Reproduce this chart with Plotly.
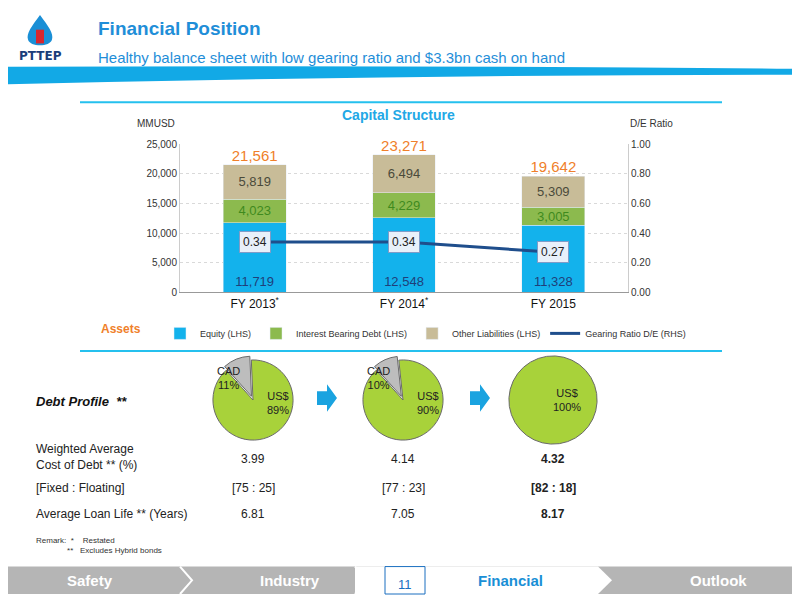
import plotly.graph_objects as go

years = ["FY 2013<sup>*</sup>", "FY 2014<sup>*</sup>", "FY 2015"]
equity = [11719, 12548, 11328]
ibd = [4023, 4229, 3005]
other = [5819, 6494, 5309]
totals = [21561, 23271, 19642]
de_ratio = [0.34, 0.34, 0.27]
usd_share = [89, 90, 100]
cad_share = [11, 10, 0]
cost_debt = ["3.99", "4.14", "4.32"]
fixed_float = ["[75 : 25]", "[77 : 23]", "[82 : 18]"]
loan_life = ["6.81", "7.05", "8.17"]

OFF = 8
W, H = 800 - OFF, 600 - OFF
def px(x): return (x - OFF) / W
def py(y): return 1 - (y - OFF) / H

FONT = "Liberation Sans"
fig = go.Figure()

bar_w = 0.42
fig.add_trace(go.Bar(x=years, y=equity, name="Equity (LHS)", marker_color="#13b2ec", width=bar_w,
                     text=[f"{v:,}" for v in equity], textposition="inside", insidetextanchor="start",
                     textfont=dict(color="#1f3f7a", size=13), hoverinfo="skip"))
fig.add_trace(go.Bar(x=years, y=ibd, name="Interest Bearing Debt (LHS)", marker_color="#8cba4e", width=bar_w,
                     text=[f"{v:,}" for v in ibd], textposition="inside", insidetextanchor="middle",
                     textfont=dict(color="#3f8a1e", size=13)))
fig.add_trace(go.Bar(x=years, y=other, name="Other Liabilities (LHS)", marker_color="#c8bc98", width=bar_w,
                     text=[f"{v:,}" for v in other], textposition="inside", insidetextanchor="middle",
                     textfont=dict(color="#4a4a3a", size=13)))
fig.add_trace(go.Scatter(x=years, y=de_ratio, name="Gearing Ratio D/E (RHS)", mode="lines", yaxis="y2",
                         line=dict(color="#1f4e8c", width=3)))
fig.add_trace(go.Scatter(x=years, y=totals, mode="text", text=[f"{v:,}" for v in totals],
                         textposition="top center", textfont=dict(color="#f07f2a", size=15),
                         showlegend=False, cliponaxis=False))

fig.update_layout(
    width=W, height=H, margin=dict(l=0, r=0, t=0, b=0), plot_bgcolor="white", paper_bgcolor="white",
    barmode="stack", font=dict(family=FONT, color="#333"),
    uniformtext=dict(mode="show", minsize=12),
    xaxis=dict(domain=[px(180), px(628)], showgrid=False, showline=True, linecolor="#999",
               tickfont=dict(size=12, color="#111"), ticks="", anchor="y"),
    yaxis=dict(domain=[py(292), py(141)], range=[0, 25000], dtick=5000, tickformat=",",
               showgrid=True, gridcolor="#d9d9d9", griddash="dot", tickfont=dict(size=10, color="#333"),
               showline=True, linecolor="#ccc", zeroline=False),
    yaxis2=dict(overlaying="y", side="right", range=[0, 1], dtick=0.2, tickformat=".2f",
                showgrid=False, tickfont=dict(size=10, color="#333"), showline=True, linecolor="#ccc"),
    legend=dict(orientation="h", x=px(160), y=py(334), yanchor="middle", xanchor="left",
                font=dict(size=9, color="#333"), traceorder="normal"),
)

shapes = []
ann = []
for i, v in enumerate(de_ratio):
    ann.append(dict(text=f"{v:.2f}", x=years[i], y=v, xref="x", yref="y2", showarrow=False,
                    bgcolor="#e8f0fa", bordercolor="#7f9cc8", borderwidth=1, borderpad=3,
                    font=dict(size=12, color="#222"), xanchor="center", yanchor="middle"))

shapes.append(dict(type="path", xref="paper", yref="paper",
                   path=f"M {px(0)} {py(62)} Q {px(400)} {py(60)} {px(800)} {py(64)} L {px(800)} {py(70)} Q {px(400)} {py(70)} {px(0)} {py(80)} Z",
                   fillcolor="#12a9e6", line_width=0, layer="below"))
shapes.append(dict(type="line", xref="paper", yref="paper", x0=px(80), x1=px(722), y0=py(98), y1=py(98),
                   line=dict(color="#25c0ee", width=2)))
shapes.append(dict(type="line", xref="paper", yref="paper", x0=px(80), x1=px(722), y0=py(352), y1=py(352),
                   line=dict(color="#25c0ee", width=2)))
shapes.append(dict(type="path", xref="paper", yref="paper",
                   path=f"M {px(40)} {py(9)} C {px(32)} {py(20)} {px(26)} {py(28)} {px(28)} {py(34)} C {px(30)} {py(42)} {px(50)} {py(42)} {px(52)} {py(34)} C {px(54)} {py(28)} {px(48)} {py(20)} {px(40)} {py(9)} Z",
                   fillcolor="#1a8fd6", line_width=0))
shapes.append(dict(type="rect", xref="paper", yref="paper", x0=px(36), x1=px(44), y0=py(38), y1=py(24),
                   fillcolor="#d8262e", line_width=0))
ann.append(dict(text="<b>PTTEP</b>", x=px(40), y=py(51), showarrow=False, font=dict(size=12, color="#1a3d7a", family="DejaVu Sans")))
ann.append(dict(text="<b>Financial Position</b>", x=px(96), y=py(23), xanchor="left", showarrow=False,
                font=dict(size=19, color="#1f8ed8")))
ann.append(dict(text="Healthy balance sheet with low gearing ratio and $3.3bn cash on hand", x=px(96), y=py(52),
                xanchor="left", showarrow=False, font=dict(size=15, color="#1f8ed8")))

ann.append(dict(text="<b>Capital Structure</b>", x=px(398), y=py(111), showarrow=False, font=dict(size=14, color="#22a8e6")))
ann.append(dict(text="MMUSD", x=px(135), y=py(120), xanchor="left", showarrow=False, font=dict(size=10, color="#333")))
ann.append(dict(text="D/E Ratio", x=px(675), y=py(120), xanchor="right", showarrow=False, font=dict(size=10, color="#333")))
ann.append(dict(text="<b>Assets</b>", x=px(99), y=py(330), xanchor="left", showarrow=False, font=dict(size=12, color="#f07f2a")))

centers = [253, 403, 553]
for i, c in enumerate(centers):
    r = 45
    if cad_share[i]:
        vals, cols, pull = [cad_share[i], usd_share[i]], ["#bdbdbd", "#a8d23a"], [0.1, 0]
    else:
        vals, cols, pull = [usd_share[i]], ["#a8d23a"], [0]
    fig.add_trace(go.Pie(values=vals, marker=dict(colors=cols, line=dict(color="#6a6a6a", width=1)),
                         textinfo="none", sort=False, direction="clockwise", rotation=-42,
                         pull=pull, showlegend=False, hoverinfo="skip",
                         domain=dict(x=[px(c - r), px(c + r)], y=[py(402 + r), py(402 - r)])))
    ann.append(dict(text=f"US$<br>{usd_share[i]}%", x=px(c + (25 if cad_share[i] else 14)), y=py(405 if cad_share[i] else 402),
                    showarrow=False, font=dict(size=11, color="#222")))
    if cad_share[i]:
        ann.append(dict(text=f"CAD<br>{cad_share[i]}%", x=px(c - 25), y=py(380), showarrow=False,
                        font=dict(size=11, color="#222")))
for ax in [325, 478]:
    shapes.append(dict(type="path", xref="paper", yref="paper",
                       path=f"M {px(ax-8)} {py(393)} L {px(ax+2)} {py(393)} L {px(ax+2)} {py(386)} L {px(ax+12)} {py(400)} L {px(ax+2)} {py(414)} L {px(ax+2)} {py(407)} L {px(ax-8)} {py(407)} Z",
                       fillcolor="#1aa3e0", line_width=0))

ann.append(dict(text="<b><i>Debt Profile  **</i></b>", x=px(34), y=py(404), xanchor="left", showarrow=False, font=dict(size=13, color="#111")))
rows = [("Weighted Average<br>Cost of Debt ** (%)", cost_debt, 460), ("[Fixed : Floating]", fixed_float, 492),
        ("Average Loan Life ** (Years)", loan_life, 518)]
for lab, vals, y in rows:
    ann.append(dict(text=lab, x=px(34), y=py(y), xanchor="left", showarrow=False, align="left", font=dict(size=12, color="#222")))
    for i, c in enumerate(centers):
        v = f"<b>{vals[i]}</b>" if i == 2 else vals[i]
        ann.append(dict(text=v, x=px(c), y=py(y + (2 if y == 460 else 0)), showarrow=False, font=dict(size=12, color="#222")))
ann.append(dict(text="Remark:  *    Restated<br>              **   Excludes Hybrid bonds", x=px(34), y=py(551), xanchor="left",
                showarrow=False, align="left", font=dict(size=8, color="#333")))

shapes.append(dict(type="rect", xref="paper", yref="paper", x0=0, x1=1, y0=py(600), y1=py(572), fillcolor="#b5b5b5", line_width=0))
shapes.append(dict(type="path", xref="paper", yref="paper",
                   path=f"M {px(355)} {py(572)} L {px(598)} {py(572)} L {px(612)} {py(586)} L {px(598)} {py(600)} L {px(355)} {py(600)} Z",
                   fillcolor="white", line_width=0))
for cx in [180, 355]:
    shapes.append(dict(type="path", xref="paper", yref="paper",
                       path=f"M {px(cx)} {py(572)} L {px(cx+12)} {py(586)} L {px(cx)} {py(600)}",
                       line=dict(color="white", width=2)))
shapes.append(dict(type="rect", xref="paper", yref="paper", x0=px(385), x1=px(425), y0=py(600), y1=py(572),
                   fillcolor="white", line=dict(color="#1a6fc0", width=1)))
for t, x, col in [("Safety", 90, "white"), ("Industry", 290, "white"), ("Financial", 510, "#1a8fd6"), ("Outlook", 718, "white")]:
    ann.append(dict(text=f"<b>{t}</b>", x=px(x), y=py(586), showarrow=False, font=dict(size=15, color=col)))
ann.append(dict(text="11", x=px(405), y=py(590), showarrow=False, font=dict(size=13, color="#1a6fc0")))

for a in ann:
    a.setdefault("xref", "paper"); a.setdefault("yref", "paper")
    a.setdefault("yanchor", "middle"); a.setdefault("xanchor", "center")
fig.update_layout(shapes=shapes, annotations=ann)
fig.write_html("out.html")
